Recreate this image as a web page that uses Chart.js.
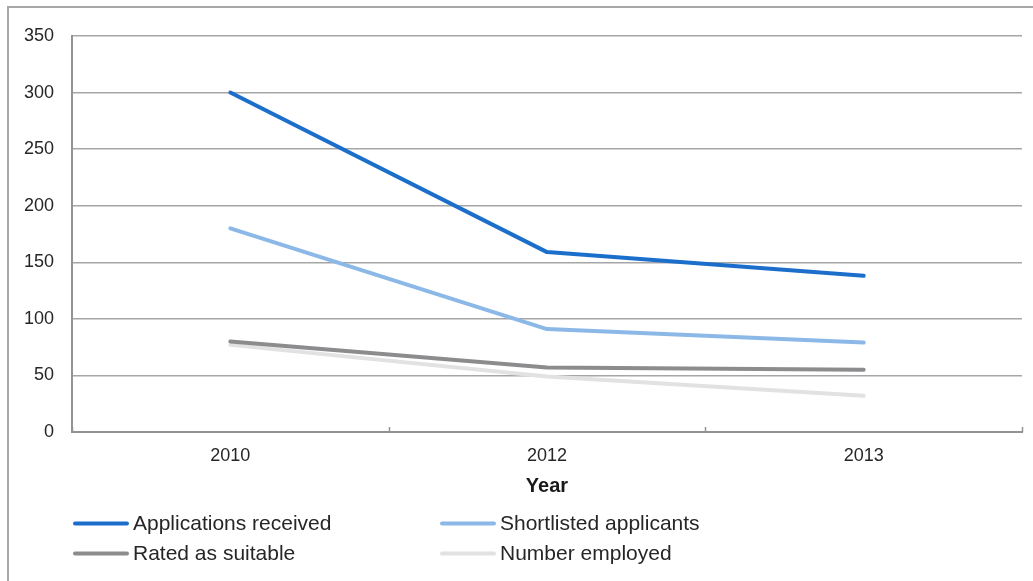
<!DOCTYPE html>
<html>
<head>
<meta charset="utf-8">
<script src="https://cdn.jsdelivr.net/npm/chart.js@4/dist/chart.umd.min.js"></script>
<style>
  html, body { margin: 0; padding: 0; background: #fff; }
  #wrap { width: 1033px; height: 581px; }
</style>
</head>
<body>
<div id="wrap"><canvas id="c" width="1033" height="581"></canvas></div>
<script>
// Recruitment funnel by year
const years = ['2010', '2012', '2013'];
const applicationsReceived = [300, 159, 138];
const shortlistedApplicants = [180, 91, 79];
const ratedAsSuitable = [80, 57, 55];
const numberEmployed = [77, 49, 32];

const seriesNames = ['Applications received', 'Shortlisted applicants', 'Rated as suitable', 'Number employed'];
const seriesValues = [applicationsReceived, shortlistedApplicants, ratedAsSuitable, numberEmployed];
const seriesColors = ['#1b6fcb', '#8cb8e7', '#8c8c8e', '#e2e2e2'];

const FONT = '"Liberation Sans", Arial, "DejaVu Sans", sans-serif';
const GRID = '#a6a6a6';
const AXIS = '#939393';

// thin frame along the top and left edges
const framePlugin = {
  id: 'frame',
  beforeDraw(chart) {
    const ctx = chart.ctx;
    ctx.save();
    ctx.strokeStyle = '#a8a8a8';
    ctx.lineWidth = 2;
    ctx.beginPath();
    ctx.moveTo(8, chart.height);
    ctx.lineTo(8, 7);
    ctx.lineTo(chart.width, 7);
    ctx.stroke();
    ctx.restore();
  }
};

// short inward tick marks between categories
const innerTicksPlugin = {
  id: 'innerTicks',
  afterDraw(chart) {
    const xs = chart.scales.x;
    const bottom = chart.chartArea.bottom;
    const ctx = chart.ctx;
    ctx.save();
    ctx.strokeStyle = AXIS;
    ctx.lineWidth = 1.5;
    for (let i = 0; i <= years.length; i++) {
      const x = Math.round(xs.getPixelForValue(i - 0.5)) + 0.5;
      ctx.beginPath();
      ctx.moveTo(x, bottom);
      ctx.lineTo(x, bottom - 5);
      ctx.stroke();
    }
    ctx.restore();
  }
};

// two-column legend under the axis title
const legendPlugin = {
  id: 'twoColLegend',
  afterDraw(chart) {
    const ctx = chart.ctx;
    const cols = [74, 441];
    const rows = [523, 553];
    ctx.save();
    ctx.font = '21px ' + FONT;
    ctx.textBaseline = 'middle';
    ctx.textAlign = 'left';
    chart.data.datasets.forEach((ds, i) => {
      const x = cols[i % 2];
      const y = rows[Math.floor(i / 2)];
      ctx.strokeStyle = ds.borderColor;
      ctx.lineWidth = 4;
      ctx.lineCap = 'round';
      ctx.beginPath();
      ctx.moveTo(x + 1, y + 0.5);
      ctx.lineTo(x + 53, y + 0.5);
      ctx.stroke();
      ctx.fillStyle = '#262626';
      ctx.fillText(ds.label, x + 59, y + 1);
    });
    ctx.restore();
  }
};

new Chart(document.getElementById('c'), {
  type: 'line',
  data: {
    labels: years,
    datasets: seriesNames.map((name, i) => ({
      label: name,
      data: seriesValues[i],
      borderColor: seriesColors[i],
      backgroundColor: seriesColors[i],
      borderWidth: 4,
      pointRadius: 0,
      pointHoverRadius: 0,
      tension: 0,
      fill: false,
      borderCapStyle: 'round',
      borderJoinStyle: 'round'
    }))
  },
  options: {
    responsive: false,
    animation: false,
    devicePixelRatio: 1,
    layout: { padding: { left: 0, top: 36, right: 11, bottom: 83 } },
    plugins: {
      legend: { display: false },
      tooltip: { enabled: false }
    },
    scales: {
      x: {
        type: 'category',
        offset: true,
        grid: { display: false, drawTicks: false, offset: true },
        border: { display: true, color: AXIS, width: 2 },
        ticks: { font: { family: FONT, size: 18 }, color: '#262626', padding: 13, maxRotation: 0 },
        title: {
          display: true,
          text: 'Year',
          font: { family: FONT, size: 20, weight: 'bold' },
          color: '#1a1a1a',
          padding: { top: 4, bottom: 0 }
        },
        afterFit(scale) { scale.height = 66; }
      },
      y: {
        min: 0,
        max: 350,
        ticks: { stepSize: 50, font: { family: FONT, size: 18 }, color: '#262626', padding: 18 },
        grid: { color: GRID, lineWidth: 1.5, drawTicks: false },
        border: { display: true, color: AXIS, width: 2 },
        afterFit(scale) { scale.width = 72; }
      }
    }
  },
  plugins: [framePlugin, innerTicksPlugin, legendPlugin]
});
</script>
</body>
</html>
